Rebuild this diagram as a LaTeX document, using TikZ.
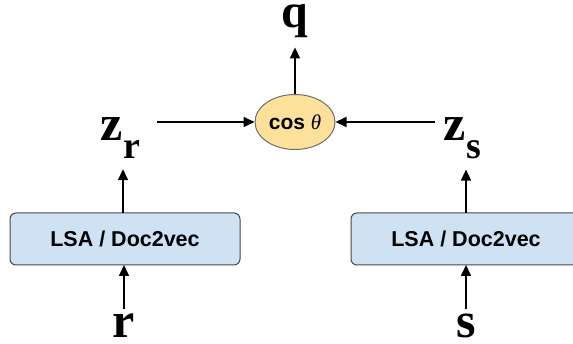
\documentclass[tikz,border=0pt]{standalone}
\usepackage{fontspec}
\setmainfont{Liberation Serif}
\setsansfont{Liberation Sans}
\usetikzlibrary{arrows.meta,shapes.geometric}
\definecolor{boxblue}{HTML}{CFE2F3}
\definecolor{boxline}{HTML}{474747}
\definecolor{cosfill}{HTML}{FDE09A}
\definecolor{cosline}{HTML}{6E6E6E}
\tikzset{
  arr/.style={line width=1.6pt, -{Triangle[length=11pt,width=10pt]}},
  model/.style={draw=boxline, line width=1pt, fill=boxblue, rounded corners=6pt},
  modeltext/.style={font=\sffamily\bfseries\fontsize{21.5}{24}\selectfont, inner sep=0pt},
  simnode/.style={ellipse, draw=cosline, line width=1pt, fill=cosfill,
    minimum width=80pt, minimum height=55pt, inner sep=0pt,
    font=\sffamily\bfseries\fontsize{21}{24}\selectfont},
  sym/.style={font=\bfseries\fontsize{50}{50}\selectfont, inner sep=0pt},
}
\newcommand{\lowsub}[1]{\kern1pt\raisebox{-18pt}{\fontsize{38}{38}\selectfont #1}}
\begin{document}
\begin{tikzpicture}[x=1pt, y=-1pt]
  \clip (0,0) rectangle (573,344);
  \fill[white] (0,0) rectangle (573,344);

  % encoder boxes
  \draw[model] (10,213) rectangle (240,265);
  \node[modeltext] (lsaL) at (125,239) {LSA / Doc2vec};
  \draw[model] (351,213) rectangle (581,265);
  \node[modeltext] (lsaR) at (466,239) {LSA / Doc2vec};
  \coordinate (lsaLtop) at (123,213);
  \coordinate (lsaLbot) at (124,265);
  \coordinate (lsaRtop) at (466,213);
  \coordinate (lsaRbot) at (466,265);

  % inputs
  \node[sym, anchor=base] (r) at (124,338) {r};
  \node[sym, anchor=base] (s) at (466,338) {s};

  % embeddings
  \node[sym, anchor=base west] (zr) at (100,141) {z\lowsub{r}};
  \node[sym, anchor=base west] (zs) at (443,141) {z\lowsub{s}};

  % similarity and output
  \node[simnode] (cos) at (295,122) {\raisebox{-1.5pt}{cos {\mdseries\itshape\rmfamily θ}}};
  \node[sym, font=\bfseries\fontsize{48}{48}\selectfont, anchor=base] (q) at (295,28) {q};

  % connectors
  \draw[arr, shorten <=5pt] (r.north) -- (lsaLbot);
  \draw[arr, shorten <=5pt] (s.north) -- (lsaRbot);
  \draw[arr, shorten >=10pt] (lsaLtop) -- (lsaLtop |- zr.south);
  \draw[arr, shorten >=10pt] (lsaRtop) -- (lsaRtop |- zs.south);
  \draw[arr] ([xshift=17pt]zr.east |- cos.west) -- (cos.west);
  \draw[arr] ([xshift=-8pt]zs.west |- cos.east) -- (cos.east);
  \draw[arr, shorten >=9pt] (cos.north) -- (q.south);
\end{tikzpicture}
\end{document}
